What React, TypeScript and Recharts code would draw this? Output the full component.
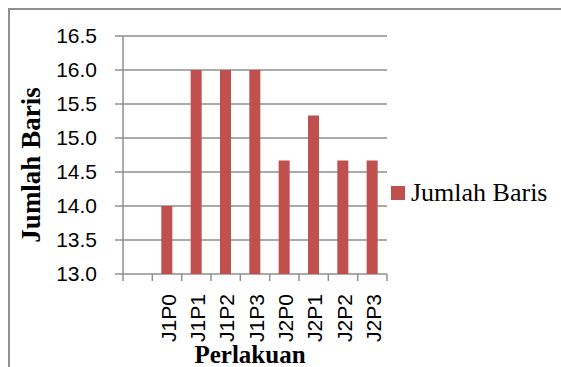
import { BarChart, Bar, XAxis, YAxis, CartesianGrid, Legend, Label } from 'recharts'

// leading blank slot keeps the first bar one band away from the y axis
const categories = ['', 'J1P0', 'J1P1', 'J1P2', 'J1P3', 'J2P0', 'J2P1', 'J2P2', 'J2P3']
const jumlahBaris = [null, 14.0, 16.0, 16.0, 16.0, 14.67, 15.33, 14.67, 14.67]
const yTicks = [13.0, 13.5, 14.0, 14.5, 15.0, 15.5, 16.0, 16.5]
const bandEdges = [0, 1, 2, 3, 4, 5, 6, 7, 8, 9]

const data = categories.map((name, i) => ({ name, pos: i + 0.5, value: jumlahBaris[i] }))

const GRAY = '#8f8f8f'
const RED = '#C0504D'
const SANS = '"Liberation Sans", Arial, sans-serif'
const SERIF = '"Liberation Serif", "Times New Roman", serif'

function CategoryTick({ x, y, payload }: any) {
  if (!payload.value) return null
  return (
    <text
      x={x + 1}
      y={y + 20}
      transform={`rotate(-90, ${x + 1}, ${y + 20})`}
      textAnchor="end"
      dominantBaseline="central"
      fontFamily={SANS}
      fontSize={21}
      fill="#000"
    >
      {payload.value}
    </text>
  )
}

function LegendBox() {
  return (
    <div
      style={{
        display: 'flex',
        alignItems: 'center',
        fontFamily: SERIF,
        fontSize: 26,
        lineHeight: '30px',
        color: '#000',
        whiteSpace: 'nowrap',
      }}
    >
      <span style={{ display: 'inline-block', width: 14, height: 14, background: RED, marginRight: 6 }} />
      Jumlah Baris
    </div>
  )
}

export default function App() {
  return (
    <div style={{ position: 'fixed', left: 0, top: 0, width: 561, height: 367, overflow: 'hidden', background: '#fff' }}>
      <div
        style={{
          position: 'absolute',
          left: 8,
          top: 8,
          width: 600,
          height: 400,
          borderTop: `2px solid ${GRAY}`,
          borderLeft: `2px solid ${GRAY}`,
        }}
      />
      <BarChart
        width={561}
        height={367}
        data={data}
        margin={{ top: 36, right: 174, bottom: 0, left: 8 }}
        barCategoryGap={0}
      >
        <CartesianGrid vertical={false} stroke={GRAY} strokeWidth={1.5} />
        {/* band boundary tick marks, mirrored so it sits on the plot edge */}
        <XAxis
          xAxisId="edges"
          type="number"
          dataKey="pos"
          domain={[0, 9]}
          ticks={bandEdges}
          interval={0}
          mirror
          height={1}
          tickFormatter={() => ''}
          tickSize={-7}
          tickLine={{ stroke: GRAY, strokeWidth: 1.5 }}
          axisLine={false}
        />
        <XAxis
          xAxisId="cat"
          dataKey="name"
          height={93}
          tickLine={false}
          axisLine={false}
          tickSize={0}
          tickMargin={0}
          interval={0}
          tick={<CategoryTick />}
        >
          <Label
            content={({ viewBox }: any) => (
              <text
                x={viewBox.x + viewBox.width / 2 - 5}
                y={viewBox.y + 89}
                textAnchor="middle"
                fontFamily={SERIF}
                fontWeight="bold"
                fontSize={25}
                fill="#000"
              >
                Perlakuan
              </text>
            )}
          />
        </XAxis>
        <YAxis
          width={115}
          domain={[13, 16.5]}
          ticks={yTicks}
          interval={0}
          tickFormatter={(v: number) => v.toFixed(1)}
          tickSize={8}
          tickMargin={18}
          tick={{ fill: '#000', fontFamily: SANS, fontSize: 21 }}
          tickLine={{ stroke: GRAY, strokeWidth: 1.5 }}
          axisLine={{ stroke: GRAY, strokeWidth: 1.5 }}
        >
          <Label
            content={({ viewBox }: any) => {
              const cx = viewBox.x + 32
              const cy = 165
              return (
                <text
                  x={cx}
                  y={cy}
                  transform={`rotate(-90, ${cx}, ${cy})`}
                  textAnchor="middle"
                  fontFamily={SERIF}
                  fontWeight="bold"
                  fontSize={27}
                  fill="#000"
                >
                  Jumlah Baris
                </text>
              )
            }}
          />
        </YAxis>
        <Legend
          layout="horizontal"
          verticalAlign="middle"
          align="center"
          content={<LegendBox />}
          wrapperStyle={{ left: 391, top: 178, right: 'auto', bottom: 'auto', width: 'auto' }}
        />
        <Bar xAxisId="cat" dataKey="value" name="Jumlah Baris" fill={RED} barSize={11} isAnimationActive={false} />
      </BarChart>
    </div>
  )
}
